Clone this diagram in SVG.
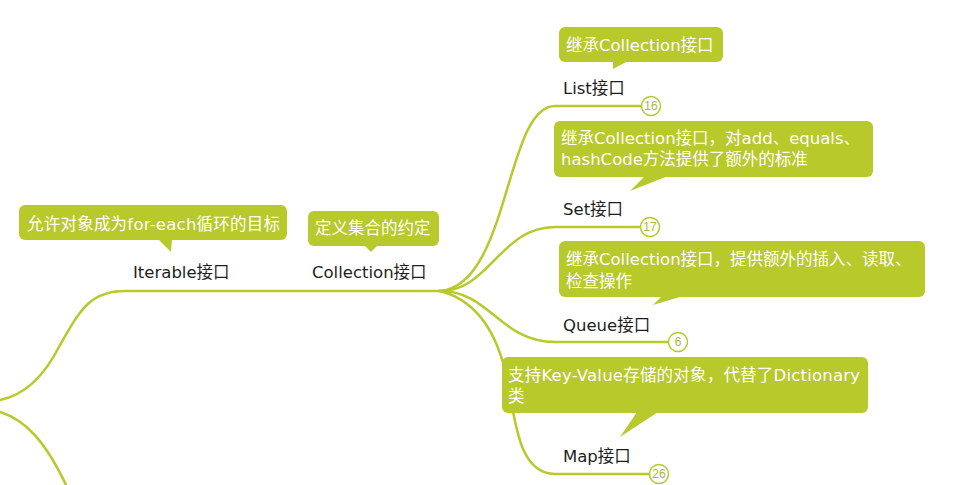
<svg xmlns="http://www.w3.org/2000/svg" width="966" height="485" viewBox="0 0 966 485">
<style>
.bg{fill:#ffffff}
.ln{fill:none;stroke:#b7c92b;stroke-width:2.5;stroke-linecap:round}
.lbl{font-family:"DejaVu Sans","Noto Sans CJK SC",sans-serif;font-size:16.5px;fill:#1e1e1e}
.co{fill:#b7c92b}
.ct{font-family:"DejaVu Sans","Noto Sans CJK SC",sans-serif;font-size:16.5px;fill:#ffffff}
.badge{fill:#ffffff;stroke:#b7c92b;stroke-width:1.5}
.bt{font-family:"Liberation Sans",Arial,sans-serif;font-size:12px;fill:#a9b744;text-anchor:middle}
</style>
<rect class="bg" x="0" y="0" width="966" height="485"/>
<g id="connectors">
<path class="ln" d="M 0,400 C 25,395 45,375 60,345 C 80,310 90,291 125,291 L 440,291"/>
<path class="ln" d="M 0,412 C 25,420 45,440 67,487"/>
<path class="ln" d="M 440,291 C 510,285 505,106 555,106 L 642,106"/>
<path class="ln" d="M 440,291 C 490,291 500,227 555,227 L 641,227"/>
<path class="ln" d="M 440,291 C 490,291 500,342 555,342 L 669,342"/>
<path class="ln" d="M 440,291 C 475,300 495,330 505,370 C 515,410 515,474 555,474 L 650,474"/>
</g>
<g id="iterable">
<text class="lbl" x="133" y="278">Iterable接口</text>
<rect class="co" x="19" y="205" width="268" height="35" rx="6"/>
<polygon class="co" points="158,239 172,239 171,252"/>
<text class="ct" x="27" y="230" textLength="253">允许对象成为for-each循环的目标</text>
</g>
<g id="collection">
<text class="lbl" x="312" y="278">Collection接口</text>
<rect class="co" x="308" y="211" width="131" height="35" rx="6"/>
<polygon class="co" points="364,245 378,245 371,252"/>
<text class="ct" x="315" y="234">定义集合的约定</text>
</g>
<g id="list">
<text class="lbl" x="563" y="94">List接口</text>
<rect class="co" x="559" y="27" width="164" height="35" rx="6"/>
<polygon class="co" points="613,61 628,61 613,69"/>
<text class="ct" x="566" y="51">继承Collection接口</text>
<circle class="badge" cx="651" cy="106" r="9.5"/>
<text class="bt" x="651" y="110">16</text>
</g>
<g id="set">
<text class="lbl" x="563" y="215">Set接口</text>
<rect class="co" x="554" y="121" width="319" height="56" rx="6"/>
<polygon class="co" points="645,176 668,176 630,191"/>
<text class="ct" x="561" y="144">继承Collection接口，对add、equals、</text>
<text class="ct" x="561" y="165">hashCode方法提供了额外的标准</text>
<circle class="badge" cx="650" cy="227" r="9.5"/>
<text class="bt" x="650" y="231">17</text>
</g>
<g id="queue">
<text class="lbl" x="563" y="331">Queue接口</text>
<rect class="co" x="559" y="241" width="366" height="56" rx="6"/>
<polygon class="co" points="662,296 683,296 653,305"/>
<text class="ct" x="566" y="265">继承Collection接口，提供额外的插入、读取、</text>
<text class="ct" x="566" y="287">检查操作</text>
<circle class="badge" cx="678" cy="342" r="9.5"/>
<text class="bt" x="678" y="346">6</text>
</g>
<g id="map">
<text class="lbl" x="563" y="462">Map接口</text>
<rect class="co" x="502" y="357" width="366" height="56" rx="6"/>
<polygon class="co" points="637,412 658,412 620,437"/>
<text class="ct" x="508" y="381" textLength="352">支持Key-Value存储的对象，代替了Dictionary</text>
<text class="ct" x="508" y="402">类</text>
<circle class="badge" cx="659" cy="474" r="9.5"/>
<text class="bt" x="659" y="478">26</text>
</g>
</svg>
